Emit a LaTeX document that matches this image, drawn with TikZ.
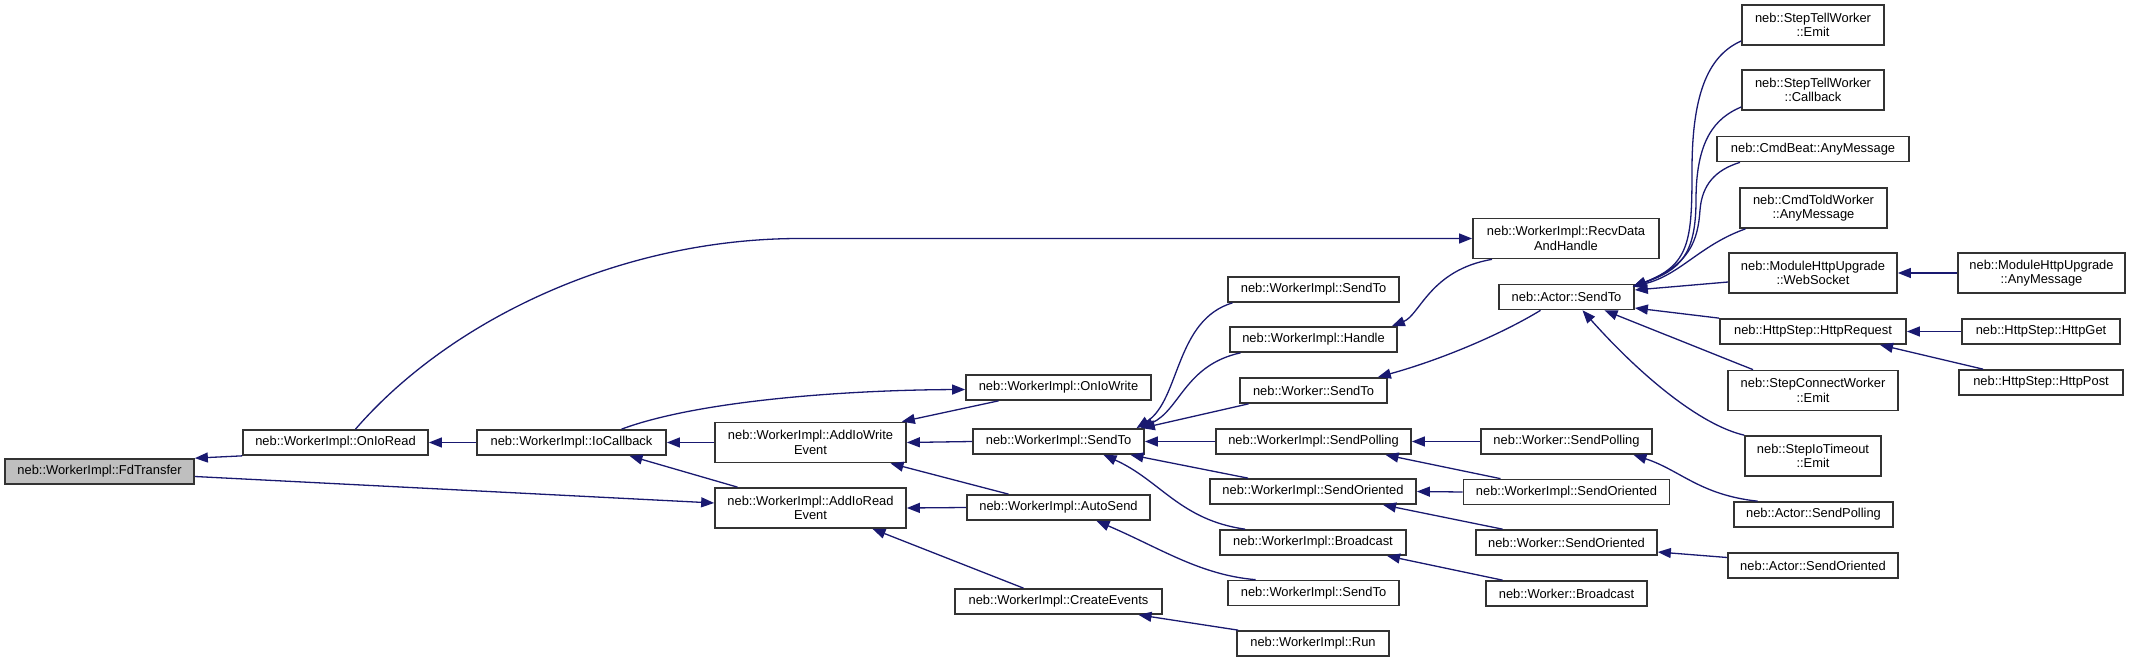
\documentclass[tikz,border=0pt]{standalone}
\usepackage{fontspec}
\setmainfont{Liberation Sans}
\usetikzlibrary{arrows.meta}
\definecolor{edgeblue}{HTML}{191970}
\definecolor{rootgray}{HTML}{BFBFBF}
\tikzset{
  fn/.style={draw=black!80, line width=1.7pt, fill=white, inner sep=0pt,
    minimum height=25pt, align=center, font=\fontsize{12.9}{14.5}\selectfont},
  fntwo/.style={fn, minimum height=40pt},
  cg/.style={draw=edgeblue, line width=1.3pt, {Triangle[length=13pt,width=10pt]}-},
}
\begin{document}
\begin{tikzpicture}[x=1pt,y=-1pt]
  \useasboundingbox (0,0) rectangle (2131,663);
  % column 1-4
  \node[fn, fill=rootgray, minimum width=189pt] (fdtransfer) at (99.5,471.5) {neb::WorkerImpl::FdTransfer};
  \node[fn, minimum width=185pt] (onioread) at (335.5,442.5) {neb::WorkerImpl::OnIoRead};
  \node[fn, minimum width=189pt] (iocallback) at (571.5,442.5) {neb::WorkerImpl::IoCallback};
  \node[fntwo, minimum width=191pt] (addiowrite) at (810.5,442.5) {neb::WorkerImpl::AddIoWrite\\Event};
  \node[fntwo, minimum width=191pt] (addioread) at (810.5,508) {neb::WorkerImpl::AddIoRead\\Event};
  % column 5
  \node[fn, minimum width=185pt] (oniowrite) at (1058.5,387.5) {neb::WorkerImpl::OnIoWrite};
  \node[fn, minimum width=171pt] (wisendto) at (1058.5,441.5) {neb::WorkerImpl::SendTo};
  \node[fn, minimum width=183pt] (autosend) at (1058.5,507.5) {neb::WorkerImpl::AutoSend};
  \node[fn, minimum width=207pt] (createevents) at (1058.5,601.5) {neb::WorkerImpl::CreateEvents};
  % column 6
  \node[fn, minimum width=171pt] (wisendtoa) at (1313.5,289.5) {neb::WorkerImpl::SendTo};
  \node[fn, minimum width=167pt] (handle) at (1313.5,339.5) {neb::WorkerImpl::Handle};
  \node[fn, minimum width=147pt] (wsendto) at (1313.5,390.5) {neb::Worker::SendTo};
  \node[fn, minimum width=195pt] (wisendpolling) at (1313.5,441.5) {neb::WorkerImpl::SendPolling};
  \node[fn, minimum width=206pt] (wisendoriented) at (1313,491.5) {neb::WorkerImpl::SendOriented};
  \node[fn, minimum width=186pt] (wibroadcast) at (1313,542.5) {neb::WorkerImpl::Broadcast};
  \node[fn, minimum width=171pt] (wisendtob) at (1313.5,593) {neb::WorkerImpl::SendTo};
  \node[fn, minimum width=152pt] (run) at (1313,643.5) {neb::WorkerImpl::Run};
  % column 7
  \node[fntwo, minimum width=186pt] (recvdata) at (1566,238.5) {neb::WorkerImpl::RecvData\\AndHandle};
  \node[fn, minimum width=135pt] (actorsendto) at (1566.5,297) {neb::Actor::SendTo};
  \node[fn, minimum width=171pt] (wsendpolling) at (1566.5,441.5) {neb::Worker::SendPolling};
  \node[fn, minimum width=206pt] (wisendorientedb) at (1566.5,492) {neb::WorkerImpl::SendOriented};
  \node[fn, minimum width=181pt] (wsendoriented) at (1566.5,542.5) {neb::Worker::SendOriented};
  \node[fn, minimum width=161pt] (wbroadcast) at (1566.5,593.5) {neb::Worker::Broadcast};
  % column 8
  \node[fntwo, minimum width=142pt] (tellemit) at (1813,25) {neb::StepTellWorker\\::Emit};
  \node[fntwo, minimum width=142pt] (tellcallback) at (1813,90) {neb::StepTellWorker\\::Callback};
  \node[fn, minimum width=192pt] (cmdbeat) at (1813,149) {neb::CmdBeat::AnyMessage};
  \node[fntwo, minimum width=147pt] (cmdtold) at (1813.5,208) {neb::CmdToldWorker\\::AnyMessage};
  \node[fntwo, minimum width=168pt] (websocket) at (1813,273) {neb::ModuleHttpUpgrade\\::WebSocket};
  \node[fn, minimum width=186pt] (httprequest) at (1813,331.5) {neb::HttpStep::HttpRequest};
  \node[fntwo, minimum width=170pt] (connectemit) at (1813,390.5) {neb::StepConnectWorker\\::Emit};
  \node[fntwo, minimum width=136pt] (timeoutemit) at (1813,456) {neb::StepIoTimeout\\::Emit};
  \node[fn, minimum width=159pt] (actorsendpolling) at (1813.5,514.5) {neb::Actor::SendPolling};
  \node[fn, minimum width=170pt] (actorsendoriented) at (1813,565.5) {neb::Actor::SendOriented};
  % column 9
  \node[fntwo, minimum width=167pt] (upgradeany) at (2041.5,273) {neb::ModuleHttpUpgrade\\::AnyMessage};
  \node[fn, minimum width=158pt] (httpget) at (2041,331.5) {neb::HttpStep::HttpGet};
  \node[fn, minimum width=164pt] (httppost) at (2041,382.5) {neb::HttpStep::HttpPost};

  % calls, arrow at the callee
  \draw[cg] (fdtransfer.north east) -- (onioread.south west);
  \draw[cg] ([yshift=5pt]addioread.west) -- ([yshift=-5pt]fdtransfer.east);
  \draw[cg] (onioread.east) -- (iocallback.west);
  \draw[cg] (recvdata.west) -- (800,238.5) .. controls (620,238.5) and (450,320) .. ([xshift=20pt]onioread.north);
  \draw[cg] (iocallback.east) -- (addiowrite.west);
  \draw[cg] ([xshift=58pt]iocallback.south) -- ([xshift=-73pt]addioread.north);
  \draw[cg] ([yshift=-2pt]oniowrite.west) .. controls (850,390) and (700,400) .. ([xshift=50pt]iocallback.north);
  \draw[cg] ([xshift=-5pt]addiowrite.north east) -- ([xshift=-60pt]oniowrite.south);
  \draw[cg] (addiowrite.east) -- (wisendto.west);
  \draw[cg] ([xshift=80pt]addiowrite.south) -- ([xshift=-50pt]autosend.north);
  \draw[cg] (addioread.east) -- (autosend.west);
  \draw[cg] ([xshift=62pt]addioread.south) -- ([xshift=-35pt]createevents.north);
  \draw[cg] ([xshift=78pt]wisendto.north) .. controls (1180,400) and (1175,320) .. ([xshift=-81pt]wisendtoa.south);
  \draw[cg] ([xshift=82pt]wisendto.north) .. controls (1180,410) and (1185,365) .. ([xshift=-73pt]handle.south);
  \draw[cg] ([xshift=-3pt]wisendto.north east) -- ([xshift=-65pt]wsendto.south);
  \draw[cg] (wisendto.east) -- (wisendpolling.west);
  \draw[cg] ([xshift=72pt]wisendto.south) -- ([xshift=-65pt]wisendoriented.north);
  \draw[cg] ([xshift=45pt]wisendto.south) .. controls (1160,480) and (1180,520) .. ([xshift=-68pt]wibroadcast.north);
  \draw[cg] ([xshift=38pt]autosend.south) .. controls (1160,548) and (1200,575) .. ([xshift=-58pt]wisendtob.north);
  \draw[cg] ([xshift=80pt]createevents.south) -- ([xshift=2pt]run.north west);
  \draw[cg] ([xshift=-6pt]handle.north east) .. controls (1420,315) and (1430,270) .. ([xshift=-74pt]recvdata.south);
  \draw[cg] ([xshift=-10pt]wsendto.north east) .. controls (1440,360) and (1500,335) .. ([xshift=-26pt]actorsendto.south);
  \draw[cg] (wisendpolling.east) -- (wsendpolling.west);
  \draw[cg] ([xshift=72pt]wisendpolling.south) -- ([xshift=-66pt]wisendorientedb.north);
  \draw[cg] (wisendoriented.east) -- (wisendorientedb.west);
  \draw[cg] ([xshift=70pt]wisendoriented.south) -- ([xshift=-64pt]wsendoriented.north);
  \draw[cg] ([xshift=74pt]wibroadcast.south) -- ([xshift=-64pt]wbroadcast.north);
  \draw[cg] ([xshift=67pt]wsendpolling.south) .. controls (1680,470) and (1700,495) .. ([xshift=-56pt]actorsendpolling.north);
  \draw[cg] ([yshift=-9.5pt]wsendoriented.east) -- ([yshift=8pt]actorsendoriented.west);
  % into neb::Actor::SendTo
  \draw[cg] ([xshift=-2pt,yshift=-3pt]actorsendto.north east) .. controls (1690,265) and (1692,240) .. (1692,170) .. controls (1692,90) and (1710,55) .. ([yshift=-16pt]tellemit.west);
  \draw[cg] ([xshift=-2pt,yshift=-3pt]actorsendto.north east) .. controls (1680,270) and (1696,255) .. (1696,200) .. controls (1696,140) and (1715,118) .. ([yshift=-17pt]tellcallback.west);
  \draw[cg] ([xshift=-2pt,yshift=-3pt]actorsendto.north east) .. controls (1690,265) and (1698,240) .. (1700,210) .. controls (1702,185) and (1715,170) .. ([xshift=-73pt]cmdbeat.south);
  \draw[cg] ([xshift=-2pt,yshift=-3pt]actorsendto.north east) .. controls (1680,275) and (1700,245) .. ([xshift=-68pt]cmdtold.south);
  \draw[cg] ([yshift=7pt]actorsendto.east) -- ([yshift=-9pt]websocket.west);
  \draw[cg] ([yshift=-11pt]actorsendto.east) -- (httprequest.north west);
  \draw[cg] ([xshift=38pt]actorsendto.south) -- ([xshift=-60pt]connectemit.north);
  \draw[cg] ([xshift=16pt]actorsendto.south) .. controls (1640,375) and (1700,425) .. (timeoutemit.north west);
  \draw[cg] (websocket.east) -- (upgradeany.west);
  \draw[cg] (httprequest.east) -- (httpget.west);
  \draw[cg] ([xshift=67pt]httprequest.south) -- ([xshift=-58pt]httppost.north);
\end{tikzpicture}
\end{document}
